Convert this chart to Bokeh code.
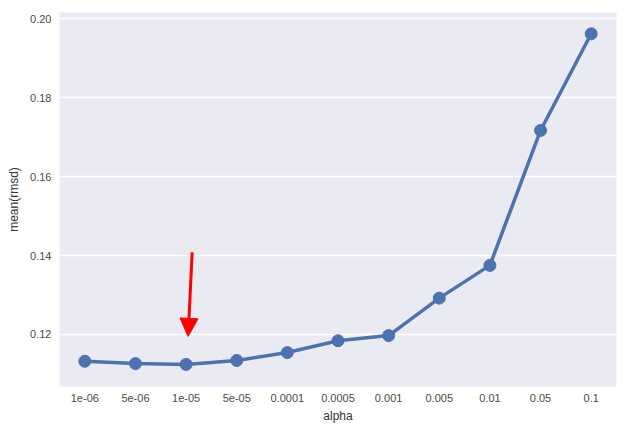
from bokeh.plotting import figure
from bokeh.models import FactorRange, Range1d, FixedTicker, PrintfTickFormatter, Arrow, NormalHead
from bokeh.embed import file_html
from bokeh.resources import INLINE

alphas = ["1e-06", "5e-06", "1e-05", "5e-05", "0.0001", "0.0005", "0.001", "0.005", "0.01", "0.05", "0.1"]
mean_rmsd = [0.1132, 0.1126, 0.1124, 0.1134, 0.1154, 0.1184, 0.1197, 0.1292, 0.1375, 0.1717, 0.1962]
y_ticks = [0.12, 0.14, 0.16, 0.18, 0.20]

p = figure(width=623, height=426, x_range=FactorRange(factors=alphas, range_padding=0),
           y_range=Range1d(0.1068, 0.2016), output_backend="svg", toolbar_location=None,
           min_border_left=59, min_border_right=7, min_border_top=12, min_border_bottom=40)

p.background_fill_color = "#EAEAF2"
p.border_fill_color = "white"
p.outline_line_color = None
p.xgrid.grid_line_color = None
p.ygrid.grid_line_color = "white"
p.ygrid.grid_line_width = 1.5

p.yaxis.ticker = FixedTicker(ticks=y_ticks)
p.yaxis.formatter = PrintfTickFormatter(format="%.2f")

for ax in (p.xaxis[0], p.yaxis[0]):
    ax.axis_line_color = None
    ax.major_tick_line_color = None
    ax.minor_tick_line_color = None
    ax.major_tick_out = 0
    ax.major_tick_in = 0
    ax.major_label_text_font = "Liberation Sans"
    ax.major_label_text_font_size = "11px"
    ax.major_label_text_color = "#4a4a4a"
    ax.axis_label_text_font = "Liberation Sans"
    ax.axis_label_text_font_size = "12px"
    ax.axis_label_text_font_style = "normal"
    ax.axis_label_text_color = "#333333"

p.xaxis.axis_label = "alpha"
p.yaxis.axis_label = "mean(rmsd)"
p.xaxis.major_label_standoff = 7
p.xaxis.axis_label_standoff = 4
p.yaxis.major_label_standoff = 8
p.yaxis.axis_label_standoff = 6

p.line(alphas, mean_rmsd, line_color="#4C72B0", line_width=3.5)
p.scatter(alphas, mean_rmsd, size=12, fill_color="#4C72B0", line_color="#4C72B0")

p.add_layout(Arrow(end=NormalHead(size=18, fill_color="red", line_color="red"),
                   x_start=2.62, y_start=0.1408, x_end=2.54, y_end=0.1195,
                   line_color="red", line_width=3))

open("out.html", "w").write(file_html(p, INLINE))
